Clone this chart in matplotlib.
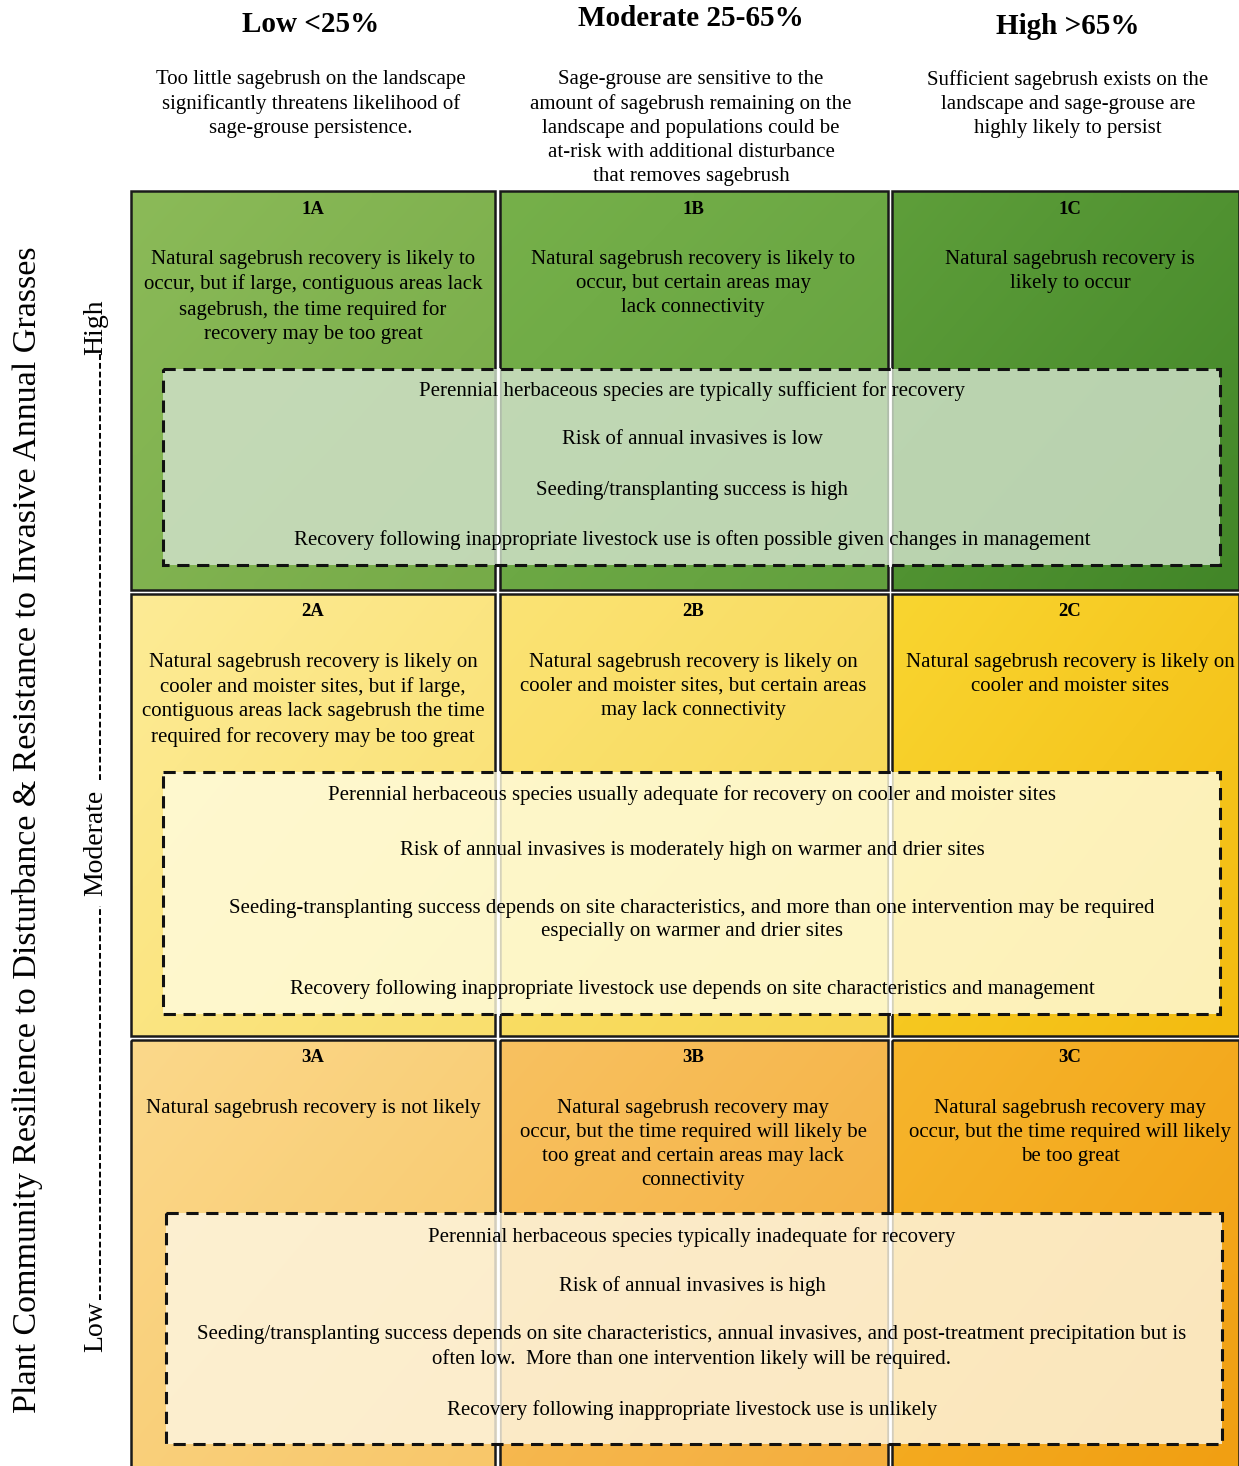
import numpy as np
import matplotlib.pyplot as plt
from matplotlib.patches import Rectangle
from matplotlib.colors import to_rgb

plt.rcParams['font.family'] = ['Liberation Serif', 'DejaVu Serif']

# column headings and their descriptions
col_titles = ['Low <25%', 'Moderate 25-65%', 'High >65%']
col_desc = [
    'Too little sagebrush on the landscape\nsignificantly threatens likelihood of\nsage-grouse persistence.',
    'Sage-grouse are sensitive to the\namount of sagebrush remaining on the\nlandscape and populations could be\nat-risk with additional disturbance\nthat removes sagebrush',
    'Sufficient sagebrush exists on the\nlandscape and sage-grouse are\nhighly likely to persist',
]

cell_ids = [['1A', '1B', '1C'], ['2A', '2B', '2C'], ['3A', '3B', '3C']]
cell_text = [
    ['Natural sagebrush recovery is likely to\noccur, but if large, contiguous areas lack\nsagebrush, the time required for\nrecovery may be too great',
     'Natural sagebrush recovery is likely to\noccur, but certain areas may\nlack connectivity',
     'Natural sagebrush recovery is\nlikely to occur'],
    ['Natural sagebrush recovery is likely on\ncooler and moister sites, but if large,\ncontiguous areas lack sagebrush the time\nrequired for recovery may be too great',
     'Natural sagebrush recovery is likely on\ncooler and moister sites, but certain areas\nmay lack connectivity',
     'Natural sagebrush recovery is likely on\ncooler and moister sites'],
    ['Natural sagebrush recovery is not likely',
     'Natural sagebrush recovery may\noccur, but the time required will likely be\ntoo great and certain areas may lack\nconnectivity',
     'Natural sagebrush recovery may\noccur, but the time required will likely\nbe too great'],
]

row_notes = [
    ['Perennial herbaceous species are typically sufficient for recovery',
     'Risk of annual invasives is low',
     'Seeding/transplanting success is high',
     'Recovery following inappropriate livestock use is often possible given changes in management'],
    ['Perennial herbaceous species usually adequate for recovery on cooler and moister sites',
     'Risk of annual invasives is moderately high on warmer and drier sites',
     'Seeding-transplanting success depends on site characteristics, and more than one intervention may be required\nespecially on warmer and drier sites',
     'Recovery following inappropriate livestock use depends on site characteristics and management'],
    ['Perennial herbaceous species typically inadequate for recovery',
     'Risk of annual invasives is high',
     'Seeding/transplanting success depends on site characteristics, annual invasives, and post-treatment precipitation but is\noften low.  More than one intervention likely will be required.',
     'Recovery following inappropriate livestock use is unlikely'],
]
note_y = [[391, 440, 490, 540], [795, 850, 920, 989], [1237, 1286, 1347, 1410]]

y_title = 'Plant Community Resilience to Disturbance & Resistance to Invasive Annual Grasses'
y_levels = ['Low', 'Moderate', 'High']

# cell colours (top-left, bottom-right)
cell_colors = [
    [('#8bba58', '#76ab48'), ('#76b04a', '#62a03e'), ('#5e9e3a', '#428628')],
    [('#fdeb95', '#f9df6e'), ('#fbe374', '#f7d650'), ('#f9d530', '#f3bb10')],
    [('#fbd88a', '#f8c76a'), ('#f8c160', '#f4ae3c'), ('#f6b52c', '#f19f12')],
]
box_colors = ['#d2e2cc', '#fffcde', '#fdf6e2']

col_x = [(131, 495), (500, 888), (892, 1239)]
col_cx = [313, 693, 1070]
row_y = [(191, 590), (594, 1036), (1040, 1470)]
box_rect = [(163, 369, 1220, 565), (163, 772, 1220, 1014), (166, 1213, 1222, 1444)]

fig = plt.figure(figsize=(12.39, 14.66), dpi=100)
ax = fig.add_axes([0, 0, 1, 1])
ax.set_xlim(0, 1239)
ax.set_ylim(1466, 0)
ax.axis('off')

# headings
head_y = [24, 19, 26]
for i in range(3):
    cx = col_cx[i] - 2
    ax.text(cx, head_y[i], col_titles[i], ha='center', va='center', fontsize=21, fontweight='bold')
    ax.text(cx, 70, col_desc[i], ha='center', va='top', fontsize=15, linespacing=1.36)

# cells
for r in range(3):
    y0, y1 = row_y[r]
    for c in range(3):
        x0, x1 = col_x[c]
        c0 = np.array(to_rgb(cell_colors[r][c][0]))
        c1 = np.array(to_rgb(cell_colors[r][c][1]))
        t = np.linspace(0, 1, 32)
        grad = (t[:, None] + t[None, :]) / 2
        img = c0 + (c1 - c0) * grad[..., None]
        ax.imshow(img, extent=(x0, x1, y1, y0), interpolation='bilinear', aspect='auto', zorder=1)
        ax.add_patch(Rectangle((x0, y0), x1 - x0, y1 - y0, fill=False, ec='#1a1a1a', lw=1.8, zorder=2))
        cx = col_cx[c]
        ax.text(cx, y0 + 18, cell_ids[r][c], ha='center', va='center', fontsize=13.5, fontweight='bold', zorder=3)
        ax.text(cx, y0 + 59, cell_text[r][c], ha='center', va='top', fontsize=15, linespacing=1.36, zorder=3)

    # dashed box with notes
    bx0, by0, bx1, by1 = box_rect[r]
    ax.add_patch(Rectangle((bx0, by0), bx1 - bx0, by1 - by0, fc=box_colors[r], alpha=0.82, ec='none', zorder=4))
    for sx in (497.5, 890):
        ax.plot([sx, sx], [by0, by1], color='white', lw=2, zorder=4.5)
    ax.add_patch(Rectangle((bx0, by0), bx1 - bx0, by1 - by0, fill=False, ec='#111111', lw=2.2,
                           ls=(0, (4, 2.5)), zorder=5))
    for line, yy in zip(row_notes[r], note_y[r]):
        ax.text(692, yy, line, ha='center', va='center', fontsize=15, linespacing=1.3, zorder=6)

# y axis title and level scale
ax.text(28, 830, y_title, rotation=90, ha='center', va='center', fontsize=24.5)
lvl_y = [1327, 843, 327]
for name, yy in zip(y_levels, lvl_y):
    ax.text(96, yy, name, rotation=90, ha='center', va='center', fontsize=20)
ax.plot([100, 100], [1300, 906], color='black', lw=1.4, ls=(0, (3, 1.5)))
ax.plot([100, 100], [780, 352], color='black', lw=1.4, ls=(0, (3, 1.5)))

fig.savefig('out.png', dpi=100)
